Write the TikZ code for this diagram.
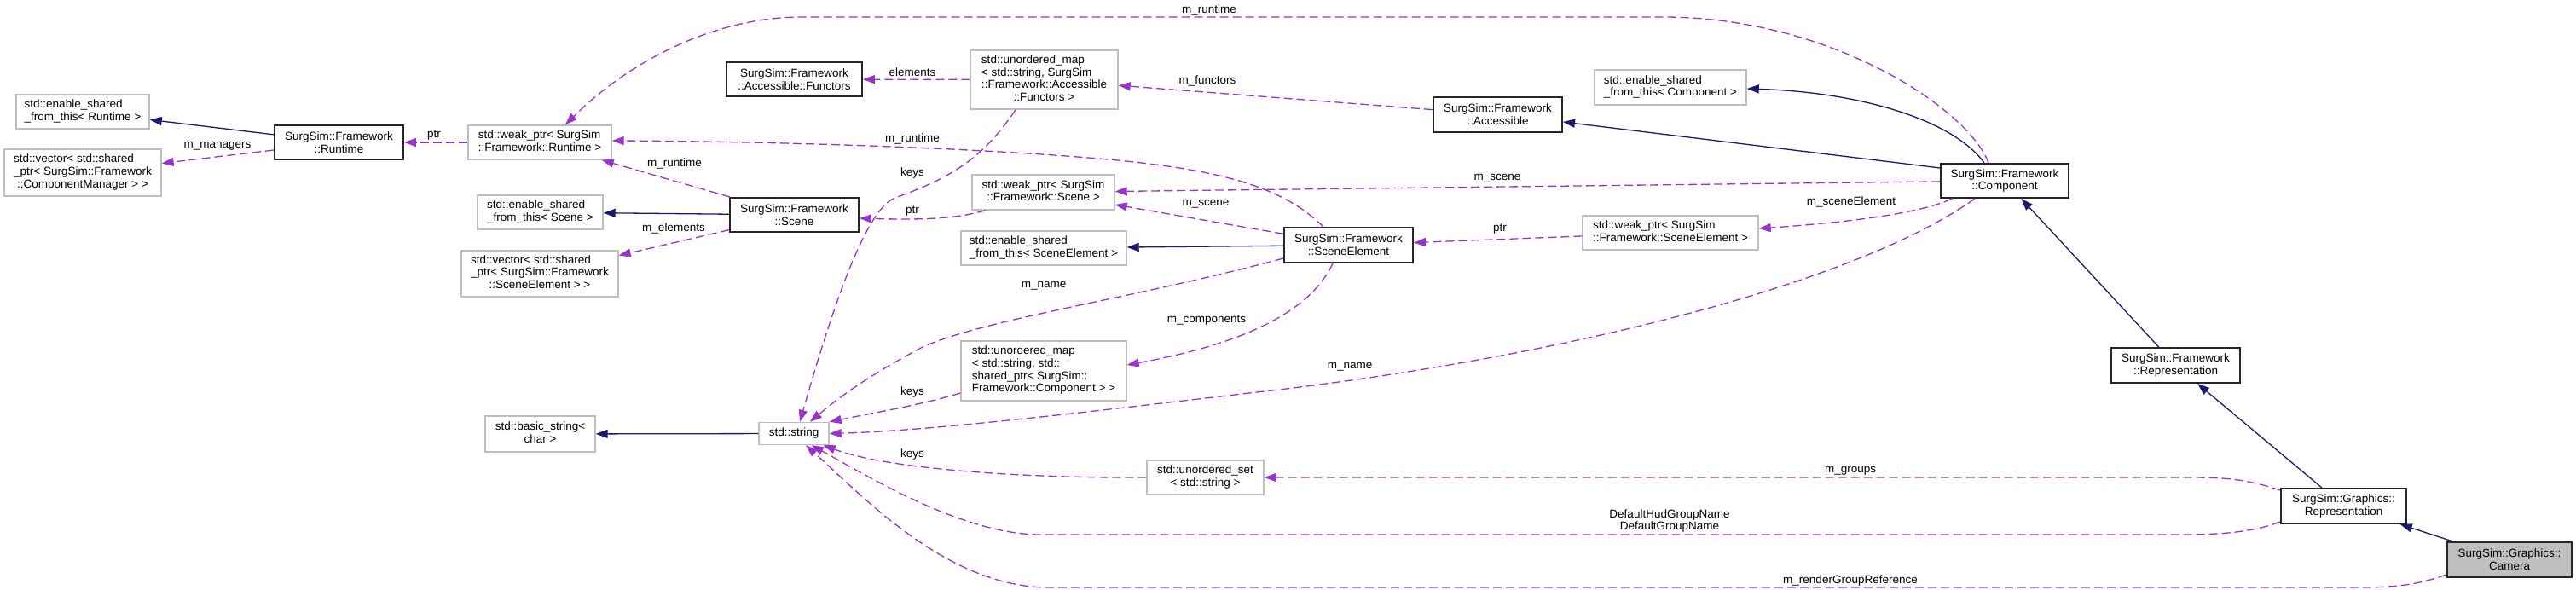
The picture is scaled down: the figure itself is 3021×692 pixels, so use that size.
\documentclass[tikz,border=0pt]{standalone}
\usepackage{fontspec}
\setmainfont{Liberation Sans}
\usetikzlibrary{arrows.meta,calc}
\definecolor{navyc}{RGB}{25,25,112}
\definecolor{purp}{RGB}{154,50,205}
\definecolor{greyb}{RGB}{191,191,191}
\newcommand\ml[1]{\begin{tabular}{@{}l@{}}#1\end{tabular}}
\newcommand\lc[1]{\multicolumn{1}{@{}c@{}}{#1}}
\begin{document}
\begin{tikzpicture}[x=1pt,y=-1pt,
  font=\fontsize{13.5}{14.7}\selectfont,
  sz/.style 2 args={minimum width=#1,minimum height=#2},
  base/.style={rectangle,inner sep=0pt,fill=white},
  gbox/.style={base,draw=greyb,line width=1.4pt},
  bbox/.style={base,draw=black!85,line width=1.9pt,align=center},
  inh/.style={draw=navyc,line width=1.3pt,-{Triangle[length=14pt,width=10pt]}},
  use/.style={draw=purp,line width=1.3pt,dash pattern=on 10pt off 5pt,-{Triangle[length=14pt,width=10pt]}},
  lab/.style={inner sep=0pt,align=center},
]
\fill[white] (0,0) rectangle (3021,692);
\path[use as bounding box] (0,0) rectangle (3021,692);

% nodes
\node[gbox,sz={156}{40}] (esfR) at (97,131) {\ml{std::enable\_shared\\\_from\_this< Runtime >}};
\node[gbox,sz={184}{55}] (vecCM) at (97,202.5) {\ml{std::vector< std::shared\\\_ptr< SurgSim::Framework\\\lc{::ComponentManager > >}}};
\node[bbox,sz={151}{40}] (runtime) at (397.5,167) {SurgSim::Framework\\::Runtime};
\node[gbox,sz={168}{40}] (wpR) at (633,167) {\ml{std::weak\_ptr< SurgSim\\::Framework::Runtime >}};
\node[gbox,sz={147}{40}] (esfS) at (633.5,249) {\ml{std::enable\_shared\\\_from\_this< Scene >}};
\node[gbox,sz={184}{54}] (vecSE) at (633,321) {\ml{std::vector< std::shared\\\_ptr< SurgSim::Framework\\\lc{::SceneElement > >}}};
\node[bbox,sz={159}{40}] (functors) at (931.5,93) {SurgSim::Framework\\::Accessible::Functors};
\node[bbox,sz={151}{40}] (scene) at (931.5,252) {SurgSim::Framework\\::Scene};
\node[gbox,sz={173}{69}] (umapF) at (1224.5,93.5) {\ml{std::unordered\_map\\< std::string, SurgSim\\::Framework::Accessible\\\lc{::Functors >}}};
\node[gbox,sz={167}{41}] (wpS) at (1223.5,225.5) {\ml{std::weak\_ptr< SurgSim\\\lc{::Framework::Scene >}}};
\node[gbox,sz={194}{40}] (esfSE) at (1224,291) {\ml{std::enable\_shared\\\_from\_this< SceneElement >}};
\node[gbox,sz={194}{70}] (umapC) at (1224,435) {\ml{std::unordered\_map\\< std::string, std::\\shared\_ptr< SurgSim::\\Framework::Component > >}};
\node[gbox,sz={137}{40}] (uset) at (1413.5,560) {\ml{std::unordered\_set\\\lc{< std::string >}}};
\node[gbox,sz={129}{42}] (bstring) at (633.5,509) {\ml{std::basic\_string<\\\lc{char >}}};
\node[gbox,sz={82}{26}] (string) at (931,508.5) {std::string};
\node[bbox,sz={151}{41}] (accessible) at (1756.5,134.5) {SurgSim::Framework\\::Accessible};
\node[bbox,sz={151}{41}] (se) at (1581.5,287.5) {SurgSim::Framework\\::SceneElement};
\node[gbox,sz={178}{41}] (esfC) at (1959,102.5) {\ml{std::enable\_shared\\\_from\_this< Component >}};
\node[gbox,sz={206}{40}] (wpSE) at (1959,273) {\ml{std::weak\_ptr< SurgSim\\::Framework::SceneElement >}};
\node[bbox,sz={150}{40}] (component) at (2351,212) {SurgSim::Framework\\::Component};
\node[bbox,sz={151}{41}] (fwrep) at (2551.5,428.5) {SurgSim::Framework\\::Representation};
\node[bbox,sz={147}{41}] (grrep) at (2748.5,593.5) {SurgSim::Graphics::\\Representation};
\node[bbox,sz={146}{41},fill=greyb] (camera) at (2943,656.5) {SurgSim::Graphics::\\Camera};

% labels
\node[lab] (l1) at (255,171) {m\_managers};
\node[lab] (l2) at (509,159) {ptr};
\node[lab] (l3) at (1418,12) {m\_runtime};
\node[lab] (l4) at (1070,163) {m\_runtime};
\node[lab] (l5) at (791,192) {m\_runtime};
\node[lab] (l6) at (790,268) {m\_elements};
\node[lab] (l7) at (1070,85) {elements};
\node[lab] (l8) at (1416,95) {m\_functors};
\node[lab] (l9) at (1070,203) {keys};
\node[lab] (l10) at (1070,248) {ptr};
\node[lab] (l11) at (1756,209) {m\_scene};
\node[lab] (l12) at (1414,239) {m\_scene};
\node[lab] (l13) at (1759,269) {ptr};
\node[lab] (l14) at (2171,237) {m\_sceneElement};
\node[lab] (l15) at (1224,335) {m\_name};
\node[lab] (l16) at (1415,376) {m\_components};
\node[lab] (l17) at (1070,460) {keys};
\node[lab] (l18) at (1583,430) {m\_name};
\node[lab] (l19) at (2170,552) {m\_groups};
\node[lab] (l20) at (1958,611) {DefaultHudGroupName\\DefaultGroupName};
\node[lab] (l21) at (1070,533) {keys};
\node[lab] (l22) at (2170,681) {m\_renderGroupReference};

% inheritance
\draw[inh] (runtime) -- (esfR);
\draw[inh] (scene) -- (esfS);
\draw[inh] (se) -- (esfSE);
\draw[inh] ([yshift=15pt]component.west) -- ([yshift=-8.5pt]accessible.east);
\draw[inh] ([xshift=-24pt]component.north) .. controls (2290,140) and (2180,108) .. ([yshift=-1.5pt]esfC.east);
\draw[inh] (fwrep) -- (component);
\draw[inh] (grrep) -- (fwrep);
\draw[inh] (camera) -- (grrep);
\draw[inh] (string) -- (bstring);

% usage
\draw[use] (runtime) -- (vecCM);
\draw[use] (wpR) -- (runtime);
\draw[use] ([xshift=-19pt]component.north) .. controls (2310,130) and (2150,20) .. (1950,20) -- (940,20) .. controls (840,20) and (740,70) .. ([xshift=30pt]wpR.north);
\draw[use] ([xshift=-29.5pt]se.north) .. controls (1500,215) and (1420,195) .. (1250,183) .. controls (1100,172) and (900,166) .. ([yshift=2pt]wpR.east);
\draw[use] ([xshift=1pt]scene.north west) -- ([xshift=-12pt]wpR.south east);
\draw[use] (scene) -- (vecSE);
\draw[use] (umapF) -- (functors);
\draw[use] (accessible) -- (umapF);
\draw[use] ([xshift=-33.5pt]umapF.south) .. controls (1150,190) and (1110,210) .. (1050,232) .. controls (1020,243) and (985,330) .. ([xshift=7pt]string.north);
\draw[use] ([xshift=-67.5pt]wpS.south) .. controls (1120,257) and (1080,258) .. ([yshift=-4pt]scene.east);
\draw[use] (component) -- (wpS);
\draw[use] (se) -- (wpS);
\draw[use] (wpSE) -- (se);
\draw[use] ([xshift=-62pt]component.south) .. controls (2250,252) and (2150,262) .. ([yshift=5pt]wpSE.east);
\draw[use] ([yshift=-15.5pt]se.west) .. controls (1330,350) and (1150,375) .. (1080,408) .. controls (1020,440) and (985,465) .. ([xshift=19pt]string.north);
\draw[use] ([xshift=-18.5pt]se.south) .. controls (1530,380) and (1420,410) .. ([yshift=7pt]umapC.east);
\draw[use] ([yshift=-26pt]umapC.west) .. controls (1080,475) and (1020,485) .. (string.north east);
\draw[use] ([xshift=-35pt]component.south) .. controls (2180,330) and (1850,415) .. (1500,457) .. controls (1300,480) and (1100,505) .. (string.east);
\draw[use] ([yshift=18.5pt]grrep.west) .. controls (2630,560) and (2600,560) .. (2560,560) -- (uset.east);
\draw[use] ([yshift=-18.5pt]grrep.west) .. controls (2640,625) and (2600,627) .. (2560,627) -- (1220,627) .. controls (1130,627) and (1020,560) .. ([xshift=21pt]string.south);
\draw[use] ([yshift=-17.5pt]camera.west) .. controls (2830,688) and (2800,689) .. (2760,689) -- (1230,689) .. controls (1110,689) and (1010,580) .. ([xshift=14pt]string.south);
\draw[use] (uset.west) .. controls (1200,561) and (1040,550) .. ([xshift=-7pt]string.south east);
\end{tikzpicture}
\end{document}
